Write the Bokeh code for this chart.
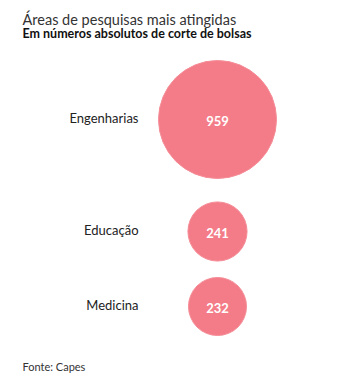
from bokeh.plotting import figure
from bokeh.models import Range1d, ColumnDataSource
from bokeh.core.properties import value
from bokeh.embed import file_html
from bokeh.resources import INLINE
import math

categories = ["Engenharias", "Educação", "Medicina"]
cuts = [959, 241, 232]
title_text = "Áreas de pesquisas mais atingidas"
subtitle_text = "Em números absolutos de corte de bolsas"
source_text = "Fonte: Capes"

# layout (pixels inside the plot)
W, H = 356, 377
row_y = [119, 231, 306]
circle_x = 217
label_x = 138
max_diam = 118
FONT = "Lato"

diam = [max_diam * math.sqrt(v / max(cuts)) for v in cuts]
src = ColumnDataSource(dict(
    cat=categories, val=[str(v) for v in cuts], y=row_y,
    x=[circle_x] * len(cuts), lx=[label_x] * len(cuts), d=diam,
))

p = figure(width=W, height=H, output_backend="svg", toolbar_location=None,
           x_range=Range1d(0, W), y_range=Range1d(H, 0), min_border=0)
p.axis.visible = False
p.grid.visible = False
p.outline_line_color = None

p.scatter("x", "y", size="d", source=src, fill_color="#f37c88",
          line_color="#f58d97", line_width=1)
p.text("x", "y", text="val", source=src, text_color="white",
       text_font=value(FONT), text_font_style="bold", text_font_size="13px",
       text_align="center", text_baseline="middle", y_offset=1)
p.text("lx", "y", text="cat", source=src, text_color="#222222",
       text_font=value(FONT), text_font_size="13px",
       text_align="right", text_baseline="middle", y_offset=-2)

p.text(x=[22], y=[19], text=[title_text], text_color="#333333",
       text_font=value(FONT), text_font_size="14.5px", text_baseline="alphabetic")
p.text(x=[22], y=[33], text=[subtitle_text], text_color="#111111",
       text_font=value(FONT), text_font_style="bold", text_font_size="12.5px",
       text_baseline="alphabetic")
p.text(x=[22], y=[366], text=[source_text], text_color="#333333",
       text_font=value(FONT), text_font_size="11px", text_baseline="alphabetic")

open("out.html", "w").write(file_html(p, INLINE))
